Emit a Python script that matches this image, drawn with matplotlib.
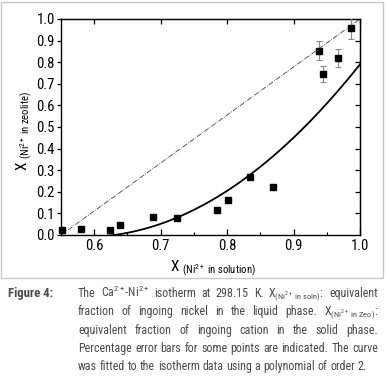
import matplotlib
matplotlib.use("Agg")
import matplotlib.pyplot as plt
import numpy as np
from matplotlib import font_manager
from matplotlib.patches import Rectangle

# data
x_sol = [0.551, 0.580, 0.624, 0.639, 0.689, 0.724, 0.785, 0.802, 0.835, 0.869,
         0.938, 0.945, 0.967, 0.986]
x_zeo = [0.022, 0.030, 0.025, 0.048, 0.085, 0.077, 0.117, 0.163, 0.270, 0.221,
         0.853, 0.745, 0.820, 0.957]
err_x = [0.835, 0.938, 0.945, 0.967, 0.986]
err_y = [0.270, 0.853, 0.745, 0.820, 0.957]
err_val = [0.013, 0.043, 0.037, 0.041, 0.048]
poly_coef = [4.662, -5.464, 1.592]   # order 2 fit, a*x^2 + b*x + c
diag_x = [0.55, 1.0]
diag_y = [0.0, 1.0]

names = {f.name for f in font_manager.fontManager.ttflist}
narrow = 'Liberation Sans'
for cand in ['Liberation Sans Narrow', 'Arial Narrow', 'Roboto Condensed', 'Archivo Narrow',
             'IBM Plex Sans Condensed', 'Sofia Sans Condensed']:
    if cand in names:
        narrow = cand
        break
plt.rcParams['font.family'] = [narrow, 'DejaVu Sans']
plt.rcParams['mathtext.fontset'] = 'custom'
plt.rcParams['mathtext.rm'] = narrow
plt.rcParams['mathtext.it'] = narrow + ':italic'
plt.rcParams['mathtext.bf'] = narrow + ':bold'

W, H = 386, 376
fig = plt.figure(figsize=(W / 100, H / 100), dpi=100)

def fx(px):
    return px / W

def fy(py):
    return 1 - py / H

# gray frame round the chart
fig.patches.append(Rectangle((fx(1), fy(278)), fx(382), 276 / H, transform=fig.transFigure,
                             fill=False, edgecolor='#c8c8c8', lw=1.0))

ax = fig.add_axes([fx(61), fy(235), (360 - 61) / W, (235 - 19) / H])

xs = np.linspace(diag_x[0], 1.0, 200)
ax.plot(xs, np.polyval(poly_coef, xs), color='black', lw=1.3, zorder=2)
ax.plot(diag_x, diag_y, color='#444444', lw=0.6, ls='-.', zorder=1)
ax.errorbar(err_x, err_y, yerr=err_val, fmt='none', ecolor='#8a8a8a', elinewidth=0.8,
            capsize=2.5, capthick=0.8, zorder=3)
ax.plot(x_sol, x_zeo, 's', color='black', ms=4.3, zorder=4, clip_on=False)

ax.set_xlim(0.55, 1.0)
ax.set_ylim(0.0, 1.0)
ax.set_xticks([0.6, 0.7, 0.8, 0.9, 1.0])
ax.set_xticks(np.arange(0.55, 1.0, 0.1), minor=True)
ax.set_yticks(np.arange(0, 1.01, 0.1))
ax.xaxis.set_major_formatter(matplotlib.ticker.FormatStrFormatter('%.1f'))
ax.yaxis.set_major_formatter(matplotlib.ticker.FormatStrFormatter('%.1f'))
ax.tick_params(axis='x', which='major', direction='in', length=4, width=0.9,
               labelsize=10.5, pad=3)
ax.tick_params(axis='x', which='minor', direction='in', length=2.5, width=0.8)
ax.tick_params(axis='y', which='major', direction='out', length=3, width=0.9,
               labelsize=10.5, pad=1.5)
for s in ax.spines.values():
    s.set_linewidth(1.0)

top = ax.secondary_xaxis('top')
top.set_xticks([0.6, 0.7, 0.8, 0.9, 1.0])
top.tick_params(direction='in', length=3.5, width=0.9, labeltop=False)
right = ax.secondary_yaxis('right')
right.set_yticks(np.arange(0.1, 1.0, 0.1))
right.tick_params(direction='in', length=3.5, width=0.9, labelright=False)

fig.text(fx(213), fy(268), r'X $_{(\mathrm{Ni}^{2+}\ \mathrm{in\ solution})}$',
         ha='center', va='center', fontsize=11)
fig.text(fx(24), fy(131), r'X $_{(\mathrm{Ni}^{2+}\ \mathrm{in\ zeolite})}$',
         ha='center', va='center', fontsize=11, rotation=90)

# caption, justified word by word
cap_color = '#4a4a4a'
cap_lines = [
    ['The', r'Ca$^{2+}$-Ni$^{2+}$', 'isotherm', 'at', '298.15', 'K.',
     r'X$_{(\mathrm{Ni}^{2+}\ \mathrm{in\ soln})}$:', 'equivalent'],
    ['fraction', 'of', 'ingoing', 'nickel', 'in', 'the', 'liquid', 'phase.',
     r'X$_{(\mathrm{Ni}^{2+}\ \mathrm{in\ Zeo})}$:'],
    ['equivalent', 'fraction', 'of', 'ingoing', 'cation', 'in', 'the', 'solid', 'phase.'],
    ['Percentage', 'error', 'bars', 'for', 'some', 'points', 'are', 'indicated.', 'The', 'curve'],
    ['was', 'fitted', 'to', 'the', 'isotherm', 'data', 'using', 'a', 'polynomial', 'of', 'order', '2.'],
]
x0, x1 = 78, 378
base0, step = 297, 18.3

renderer = fig.canvas.get_renderer()
# size the caption so its last line spans close to the reference
probe = fig.text(0, 0, ' '.join(cap_lines[-1]), fontsize=10)
cap_size = min(9.5, 10 * 288 / probe.get_window_extent(renderer).width)
probe.remove()
probe = fig.text(0, 0, 'x x', fontsize=cap_size)
probe2 = fig.text(0, 0, 'xx', fontsize=cap_size)
space = probe.get_window_extent(renderer).width - probe2.get_window_extent(renderer).width
probe.remove()
probe2.remove()

fig.text(fx(8), fy(base0), 'Figure 4:', fontsize=cap_size + 0.5, fontweight='bold',
         color=cap_color, va='baseline', ha='left')

for i, words in enumerate(cap_lines):
    texts = [fig.text(0, fy(base0 + i * step), w, fontsize=cap_size, color=cap_color,
                      va='baseline', ha='left') for w in words]
    widths = [t.get_window_extent(renderer).width for t in texts]
    if i < len(cap_lines) - 1:
        gap = max((x1 - x0 - sum(widths)) / (len(words) - 1), space)
    else:
        gap = space
    pos = x0
    for t, w in zip(texts, widths):
        t.set_x(fx(pos))
        pos += w + gap

fig.savefig('out.png', dpi=100)
